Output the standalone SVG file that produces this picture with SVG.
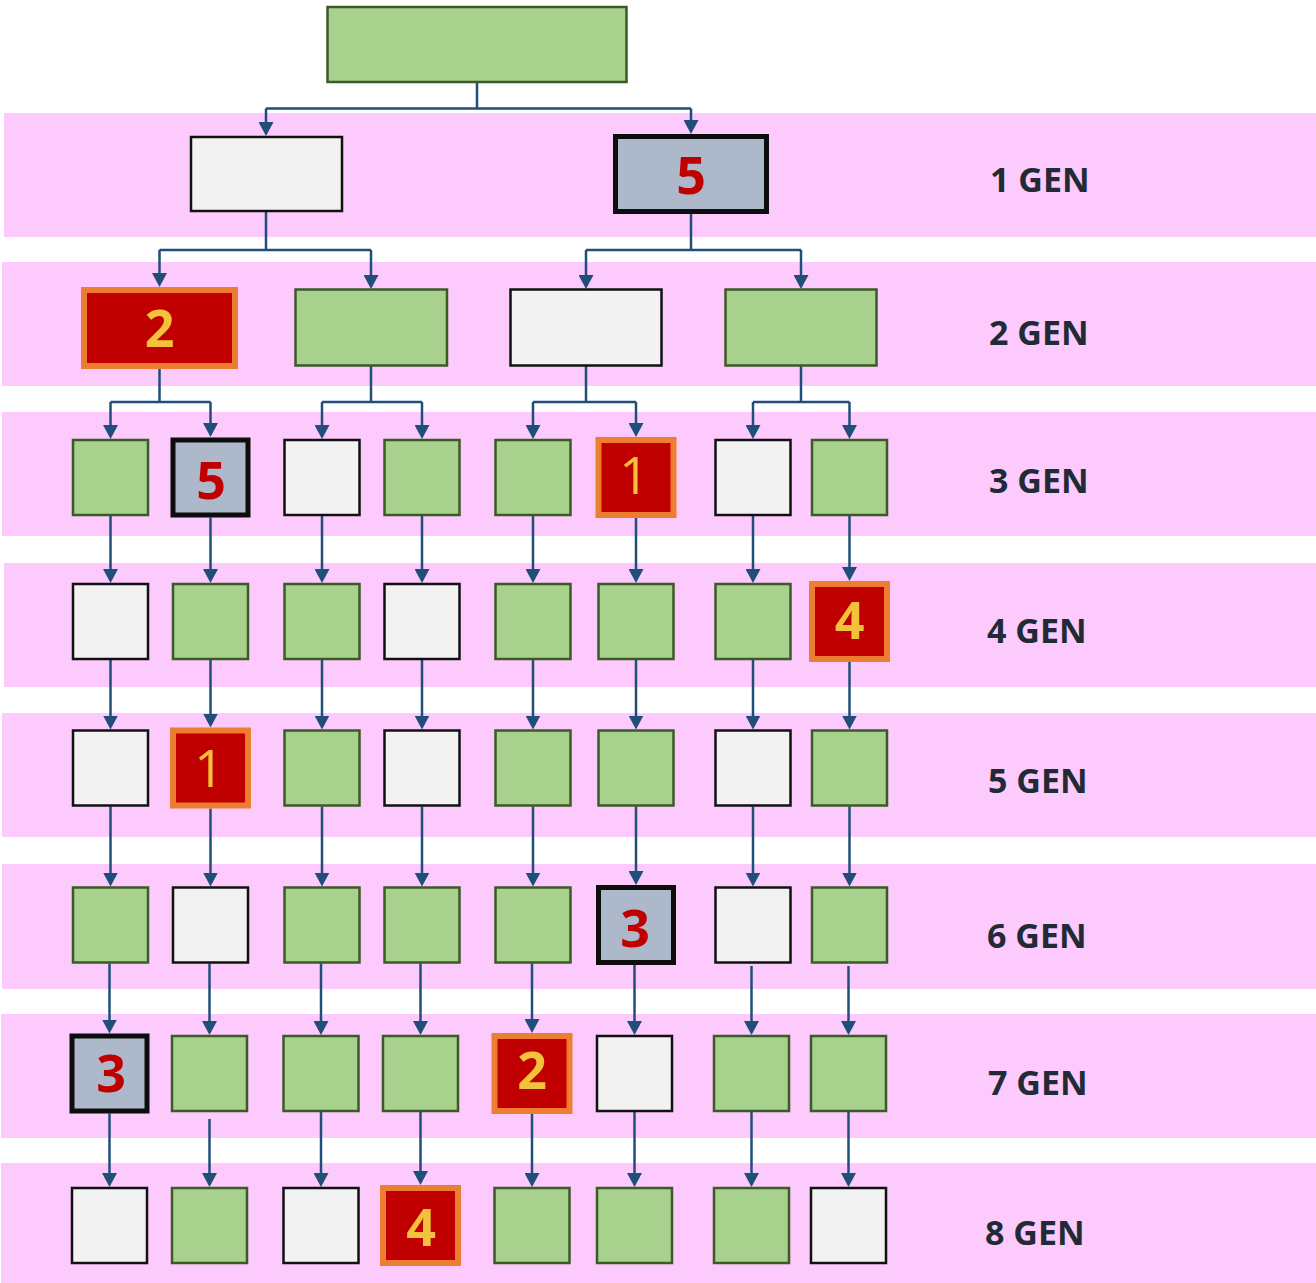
<svg xmlns="http://www.w3.org/2000/svg" width="1316" height="1283" viewBox="0 0 1316 1283">
  <style>
    .band { fill: #FCCAFC; }
    .g { fill: #A9D18E; stroke: #3B5A26; stroke-width: 2.5; }
    .w { fill: #F2F2F2; stroke: #111111; stroke-width: 2.5; }
    .s { fill: #ADB9CA; stroke: #0D0D0D; stroke-width: 5; }
    .r { fill: #C00000; stroke: #ED7D31; stroke-width: 6; }
    .conn { fill: none; stroke: #1F4E79; stroke-width: 2.5; }
    .arr { marker-end: url(#arrow); }
    .nr { font-family: "Open Sans", "Liberation Sans", sans-serif; font-weight: 700; font-size: 52px; fill: #C00000; text-anchor: middle; }
    .ny { font-family: "Open Sans", "Liberation Sans", sans-serif; font-weight: 700; font-size: 52px; fill: #F4C23A; text-anchor: middle; }
    .ny1 { font-family: "Open Sans", "Liberation Sans", sans-serif; font-weight: 400; font-size: 52px; fill: #F4C23A; text-anchor: middle; }
    .lbl { font-family: "Open Sans", "Liberation Sans", sans-serif; font-weight: 700; font-size: 34px; fill: #222A35; }
  </style>
  <defs>
    <marker id="arrow" viewBox="0 0 14 15" refX="10" refY="7.5" markerWidth="14" markerHeight="15" markerUnits="userSpaceOnUse" orient="auto">
      <path d="M0,0 L14,7.5 L0,15 Z" fill="#1F4E79"/>
    </marker>
  </defs>

  <g id="bands">
    <rect class="band" x="4" y="113" width="1312" height="124"/>
    <rect class="band" x="2" y="262" width="1314" height="124"/>
    <rect class="band" x="2" y="412" width="1314" height="124"/>
    <rect class="band" x="4" y="563" width="1312" height="124"/>
    <rect class="band" x="2" y="713" width="1314" height="124"/>
    <rect class="band" x="2" y="864" width="1314" height="125"/>
    <rect class="band" x="1" y="1014" width="1315" height="124"/>
    <rect class="band" x="1" y="1163" width="1315" height="120"/>
  </g>

  <g id="labels">
    <text class="lbl" x="990" y="192">1 GEN</text>
    <text class="lbl" x="989" y="345">2 GEN</text>
    <text class="lbl" x="989" y="493">3 GEN</text>
    <text class="lbl" x="987" y="643">4 GEN</text>
    <text class="lbl" x="988" y="793">5 GEN</text>
    <text class="lbl" x="987" y="948">6 GEN</text>
    <text class="lbl" x="988" y="1095">7 GEN</text>
    <text class="lbl" x="985" y="1245">8 GEN</text>
  </g>

  <g id="connectors">
    <path class="conn" d="M477,83 V108.5 M266,108.5 H691"/>
    <path class="conn arr" d="M266,108.5 V132"/>
    <path class="conn arr" d="M691,108.5 V130"/>

    <path class="conn" d="M266,212 V250 M159.5,250 H371"/>
    <path class="conn arr" d="M159.5,250 V283"/>
    <path class="conn arr" d="M371,250 V285"/>
    <path class="conn" d="M691,214 V250 M586,250 H801"/>
    <path class="conn arr" d="M586,250 V285"/>
    <path class="conn arr" d="M801,250 V285"/>

    <path class="conn" d="M159.5,368 V402 M110.5,402 H210.5"/>
    <path class="conn arr" d="M110.5,402 V435"/>
    <path class="conn arr" d="M210.5,402 V433"/>
    <path class="conn" d="M371,366 V402 M322,402 H422"/>
    <path class="conn arr" d="M322,402 V435"/>
    <path class="conn arr" d="M422,402 V435"/>
    <path class="conn" d="M586,366 V402 M533,402 H636"/>
    <path class="conn arr" d="M533,402 V435"/>
    <path class="conn arr" d="M636,402 V433"/>
    <path class="conn" d="M801,366 V402 M753,402 H849.5"/>
    <path class="conn arr" d="M753,402 V435"/>
    <path class="conn arr" d="M849.5,402 V435"/>

    <path class="conn arr" d="M110.5,516 V579"/>
    <path class="conn arr" d="M210.5,517.5 V579"/>
    <path class="conn arr" d="M322,516 V579"/>
    <path class="conn arr" d="M422,516 V579"/>
    <path class="conn arr" d="M533,516 V579"/>
    <path class="conn arr" d="M636,518 V579"/>
    <path class="conn arr" d="M753,516 V579"/>
    <path class="conn arr" d="M849.5,516 V577"/>

    <path class="conn arr" d="M110.5,660 V725.5"/>
    <path class="conn arr" d="M210.5,660 V723.5"/>
    <path class="conn arr" d="M322,660 V725.5"/>
    <path class="conn arr" d="M422,660 V725.5"/>
    <path class="conn arr" d="M533,660 V725.5"/>
    <path class="conn arr" d="M636,660 V725.5"/>
    <path class="conn arr" d="M753,660 V725.5"/>
    <path class="conn arr" d="M849.5,662 V725.5"/>

    <path class="conn arr" d="M110.5,806.5 V882.5"/>
    <path class="conn arr" d="M210.5,808.5 V882.5"/>
    <path class="conn arr" d="M322,806.5 V882.5"/>
    <path class="conn arr" d="M422,806.5 V882.5"/>
    <path class="conn arr" d="M533,806.5 V882.5"/>
    <path class="conn arr" d="M636,806.5 V881"/>
    <path class="conn arr" d="M753,806.5 V882.5"/>
    <path class="conn arr" d="M849.5,806.5 V882.5"/>

    <path class="conn arr" d="M109.5,963.5 V1029.5"/>
    <path class="conn arr" d="M209.5,963.5 V1031"/>
    <path class="conn arr" d="M321,963.5 V1031"/>
    <path class="conn arr" d="M420.5,963.5 V1031"/>
    <path class="conn arr" d="M532,963.5 V1029"/>
    <path class="conn arr" d="M634.5,965 V1031"/>
    <path class="conn arr" d="M751.5,966 V1031"/>
    <path class="conn arr" d="M848.5,966 V1031"/>

    <path class="conn arr" d="M109.5,1113.5 V1183"/>
    <path class="conn arr" d="M209.5,1119 V1183"/>
    <path class="conn arr" d="M321,1112 V1183"/>
    <path class="conn arr" d="M420.5,1112 V1181"/>
    <path class="conn arr" d="M532,1114 V1183"/>
    <path class="conn arr" d="M634.5,1112 V1183"/>
    <path class="conn arr" d="M751.5,1112 V1183"/>
    <path class="conn arr" d="M848.5,1112 V1183"/>
  </g>

  <g id="root"><rect class="g" x="327.5" y="7" width="299" height="75"/></g>

  <g id="g1-1"><rect class="w" x="191" y="137" width="151" height="74"/></g>
  <g id="g1-2"><rect class="s" x="615.5" y="136.5" width="151" height="75"/><text class="nr" x="691" y="194">5</text></g>

  <g id="g2-1"><rect class="r" x="84" y="290" width="151" height="76"/><text class="ny" x="159.5" y="346.5">2</text></g>
  <g id="g2-2"><rect class="g" x="295.5" y="289.5" width="151.5" height="76"/></g>
  <g id="g2-3"><rect class="w" x="510.5" y="289.5" width="151" height="76"/></g>
  <g id="g2-4"><rect class="g" x="725.5" y="289.5" width="151" height="76"/></g>

  <g id="g3-1"><rect class="g" x="73" y="440" width="75" height="75"/></g>
  <g id="g3-2"><rect class="s" x="173" y="440" width="75" height="75"/><text class="nr" x="211" y="499">5</text></g>
  <g id="g3-3"><rect class="w" x="284.5" y="440" width="75" height="75"/></g>
  <g id="g3-4"><rect class="g" x="384.5" y="440" width="75" height="75"/></g>
  <g id="g3-5"><rect class="g" x="495.5" y="440" width="75" height="75"/></g>
  <g id="g3-6"><rect class="r" x="598.5" y="440" width="75" height="75"/><text class="ny1" x="634" y="494">1</text></g>
  <g id="g3-7"><rect class="w" x="715.5" y="440" width="75" height="75"/></g>
  <g id="g3-8"><rect class="g" x="812" y="440" width="75" height="75"/></g>

  <g id="g4-1"><rect class="w" x="73" y="584" width="75" height="75"/></g>
  <g id="g4-2"><rect class="g" x="173" y="584" width="75" height="75"/></g>
  <g id="g4-3"><rect class="g" x="284.5" y="584" width="75" height="75"/></g>
  <g id="g4-4"><rect class="w" x="384.5" y="584" width="75" height="75"/></g>
  <g id="g4-5"><rect class="g" x="495.5" y="584" width="75" height="75"/></g>
  <g id="g4-6"><rect class="g" x="598.5" y="584" width="75" height="75"/></g>
  <g id="g4-7"><rect class="g" x="715.5" y="584" width="75" height="75"/></g>
  <g id="g4-8"><rect class="r" x="812" y="584" width="75" height="75"/><text class="ny" x="849.5" y="639">4</text></g>

  <g id="g5-1"><rect class="w" x="73" y="730.5" width="75" height="75"/></g>
  <g id="g5-2"><rect class="r" x="173" y="730.5" width="75" height="75"/><text class="ny1" x="209" y="786.5">1</text></g>
  <g id="g5-3"><rect class="g" x="284.5" y="730.5" width="75" height="75"/></g>
  <g id="g5-4"><rect class="w" x="384.5" y="730.5" width="75" height="75"/></g>
  <g id="g5-5"><rect class="g" x="495.5" y="730.5" width="75" height="75"/></g>
  <g id="g5-6"><rect class="g" x="598.5" y="730.5" width="75" height="75"/></g>
  <g id="g5-7"><rect class="w" x="715.5" y="730.5" width="75" height="75"/></g>
  <g id="g5-8"><rect class="g" x="812" y="730.5" width="75" height="75"/></g>

  <g id="g6-1"><rect class="g" x="73" y="887.5" width="75" height="75"/></g>
  <g id="g6-2"><rect class="w" x="173" y="887.5" width="75" height="75"/></g>
  <g id="g6-3"><rect class="g" x="284.5" y="887.5" width="75" height="75"/></g>
  <g id="g6-4"><rect class="g" x="384.5" y="887.5" width="75" height="75"/></g>
  <g id="g6-5"><rect class="g" x="495.5" y="887.5" width="75" height="75"/></g>
  <g id="g6-6"><rect class="s" x="598.5" y="887.5" width="75" height="75"/><text class="nr" x="635" y="946.5">3</text></g>
  <g id="g6-7"><rect class="w" x="715.5" y="887.5" width="75" height="75"/></g>
  <g id="g6-8"><rect class="g" x="812" y="887.5" width="75" height="75"/></g>

  <g id="g7-1"><rect class="s" x="72" y="1036" width="75" height="75"/><text class="nr" x="111" y="1092">3</text></g>
  <g id="g7-2"><rect class="g" x="172" y="1036" width="75" height="75"/></g>
  <g id="g7-3"><rect class="g" x="283.5" y="1036" width="75" height="75"/></g>
  <g id="g7-4"><rect class="g" x="383" y="1036" width="75" height="75"/></g>
  <g id="g7-5"><rect class="r" x="494.5" y="1036" width="75" height="75"/><text class="ny" x="532" y="1089">2</text></g>
  <g id="g7-6"><rect class="w" x="597" y="1036" width="75" height="75"/></g>
  <g id="g7-7"><rect class="g" x="714" y="1036" width="75" height="75"/></g>
  <g id="g7-8"><rect class="g" x="811" y="1036" width="75" height="75"/></g>

  <g id="g8-1"><rect class="w" x="72" y="1188" width="75" height="75"/></g>
  <g id="g8-2"><rect class="g" x="172" y="1188" width="75" height="75"/></g>
  <g id="g8-3"><rect class="w" x="283.5" y="1188" width="75" height="75"/></g>
  <g id="g8-4"><rect class="r" x="383" y="1188" width="75" height="75"/><text class="ny" x="421" y="1245.5">4</text></g>
  <g id="g8-5"><rect class="g" x="494.5" y="1188" width="75" height="75"/></g>
  <g id="g8-6"><rect class="g" x="597" y="1188" width="75" height="75"/></g>
  <g id="g8-7"><rect class="g" x="714" y="1188" width="75" height="75"/></g>
  <g id="g8-8"><rect class="w" x="811" y="1188" width="75" height="75"/></g>
</svg>
